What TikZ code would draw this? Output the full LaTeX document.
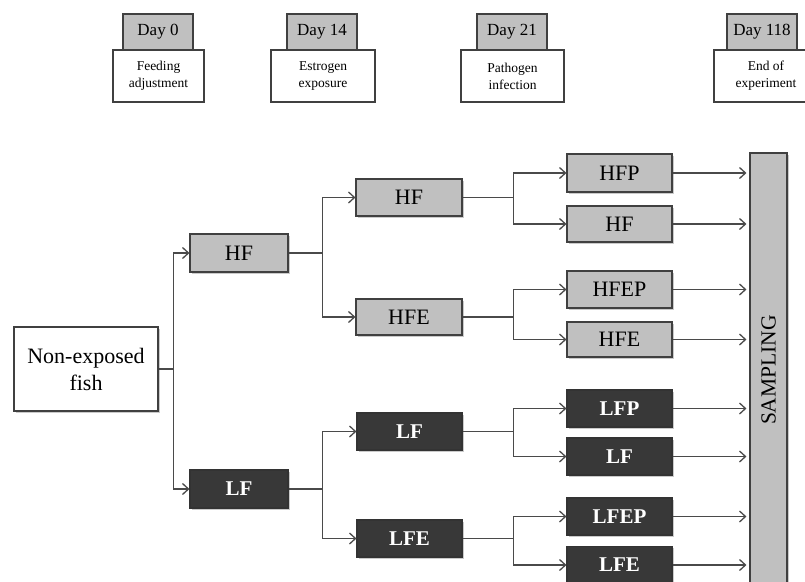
\documentclass[tikz,border=0pt]{standalone}
\usepackage{fontspec}
\setmainfont{Liberation Serif}
\usetikzlibrary{arrows.meta,shadows,calc}
\definecolor{lgray}{HTML}{C0C0C0}
\definecolor{dgray}{HTML}{383838}
\definecolor{edge}{HTML}{404040}
\definecolor{wire}{HTML}{4A4A4A}
\begin{document}
\begin{tikzpicture}[x=1pt,y=-1pt,
  shade/.style={drop shadow={shadow xshift=1.5pt,shadow yshift=-1.5pt,opacity=0.35,fill=black!60}},
  daybox/.style={draw=edge,line width=1.1pt,fill=lgray,minimum width=70pt,minimum height=36pt,inner sep=0pt,font=\fontsize{17}{20}\selectfont},
  notebox/.style={draw=edge,line width=1.1pt,fill=white,minimum height=52pt,inner sep=0pt,align=center,font=\fontsize{13.5}{17}\selectfont},
  lbox/.style={draw=edge,line width=1.1pt,fill=lgray,inner sep=0pt,shade,font=\fontsize{22}{26}\selectfont},
  dbox/.style={draw=black!80,line width=1.1pt,fill=dgray,text=white,inner sep=0pt,shade,font=\fontsize{21}{25}\selectfont\bfseries},
  wireline/.style={draw=wire,line width=1.4pt},
  arr/.style={wireline,-{Straight Barb[length=6pt,width=11pt,line width=1.3pt]}}
]
\useasboundingbox (0,0) rectangle (805,581);
% header
\node[daybox] (d0) at (158,32) {Day 0};
\node[notebox,minimum width=91pt] (n0) at (158.5,76) {Feeding\\adjustment};
\node[daybox] (d14) at (322,32) {Day 14};
\node[notebox,minimum width=104pt] (n14) at (323,76) {Estrogen\\exposure};
\node[daybox] (d21) at (512,32) {Day 21};
\node[notebox,minimum width=103pt] (n21) at (512.5,76) {Pathogen\\infection};
\node[daybox] (d118) at (762,32) {Day 118};
\node[notebox,minimum width=104pt] (n118) at (766,76) {End of\\experiment};
% main
\node[draw=edge,line width=1.1pt,fill=white,shade,minimum width=144pt,minimum height=84pt,inner sep=0pt,align=center,font=\fontsize{22}{27}\selectfont] (nef) at (86,369) {Non-exposed\\fish};
\node[lbox,minimum width=98pt,minimum height=38pt] (hf1) at (239,253) {HF};
\node[dbox,minimum width=98pt,minimum height=38pt] (lf1) at (239,489) {LF};
\node[lbox,minimum width=106pt,minimum height=37pt] (hf2) at (409,197.5) {HF};
\node[lbox,minimum width=106pt,minimum height=36pt] (hfe2) at (409,317) {HFE};
\node[dbox,minimum width=105pt,minimum height=37pt] (lf2) at (409.5,431.5) {LF};
\node[dbox,minimum width=105pt,minimum height=37pt] (lfe2) at (409.5,538.5) {LFE};
\node[lbox,minimum width=105pt,minimum height=38pt] (hfp) at (619.5,173) {HFP};
\node[lbox,minimum width=105pt,minimum height=36pt] (hf3) at (619.5,224) {HF};
\node[lbox,minimum width=105pt,minimum height=37pt] (hfep) at (619.5,289.5) {HFEP};
\node[lbox,minimum width=105pt,minimum height=35pt] (hfe3) at (619.5,339.5) {HFE};
\node[dbox,minimum width=105pt,minimum height=37pt] (lfp) at (619.5,408.5) {LFP};
\node[dbox,minimum width=105pt,minimum height=37pt] (lf3) at (619.5,456.5) {LF};
\node[dbox,minimum width=105pt,minimum height=37pt] (lfep) at (619.5,516.5) {LFEP};
\node[dbox,minimum width=105pt,minimum height=37pt] (lfe3) at (619.5,565) {LFE};
\node[draw=edge,line width=1.1pt,fill=lgray,shade,minimum width=37pt,minimum height=434pt,inner sep=0pt] (samp) at (768.5,370) {};
\node[rotate=90,font=\fontsize{21.5}{24}\selectfont] (samptxt) at (samp.center) {SAMPLING};
% connectors
\coordinate (b1) at ($(nef.east)+(15,0)$);
\draw[wireline] (nef.east) -- (b1);
\draw[arr] (b1) |- (hf1.west);
\draw[arr] (b1) |- (lf1.west);
\coordinate (b2) at ($(hf1.east)+(34,0)$);
\draw[wireline] (hf1.east) -- (b2);
\draw[arr] (b2) |- (hf2.west);
\draw[arr] (b2) |- (hfe2.west);
\coordinate (b3) at ($(lf1.east)+(34,0)$);
\draw[wireline] (lf1.east) -- (b3);
\draw[arr] (b3) |- (lf2.west);
\draw[arr] (b3) |- (lfe2.west);
\coordinate (c1) at ($(hf2.east)+(51,0)$);
\draw[wireline] (hf2.east) -- (c1);
\draw[arr] (c1) |- (hfp.west);
\draw[arr] (c1) |- (hf3.west);
\coordinate (c2) at ($(hfe2.east)+(51,0)$);
\draw[wireline] (hfe2.east) -- (c2);
\draw[arr] (c2) |- (hfep.west);
\draw[arr] (c2) |- (hfe3.west);
\coordinate (c3) at ($(lf2.east)+(51,0)$);
\draw[wireline] (lf2.east) -- (c3);
\draw[arr] (c3) |- (lfp.west);
\draw[arr] (c3) |- (lf3.west);
\coordinate (c4) at ($(lfe2.east)+(51,0)$);
\draw[wireline] (lfe2.east) -- (c4);
\draw[arr] (c4) |- (lfep.west);
\draw[arr] (c4) |- (lfe3.west);
\foreach \n in {hfp,hf3,hfep,hfe3,lfp,lf3,lfep,lfe3}
  \draw[arr,shorten >=3pt] (\n.east) -- (\n.east -| samp.west);
\end{tikzpicture}
\end{document}
